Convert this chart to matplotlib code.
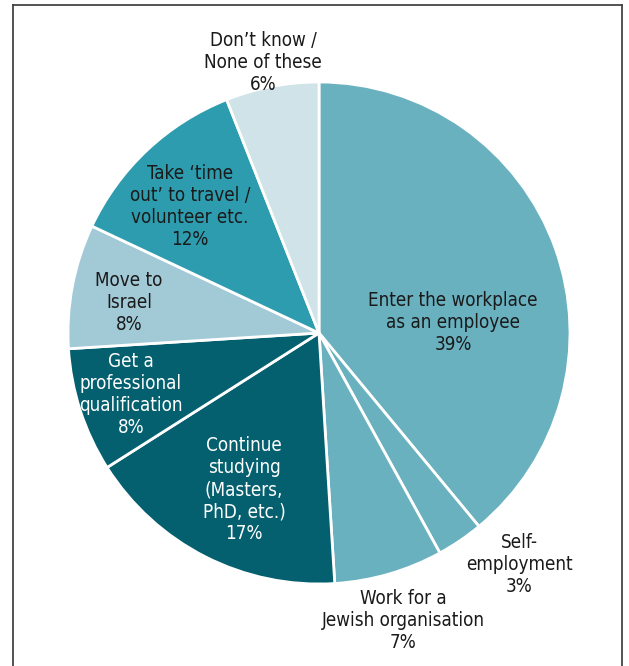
import matplotlib
matplotlib.use("Agg")
import matplotlib.pyplot as plt
from matplotlib.lines import Line2D

labels = ["Enter the workplace\nas an employee", "Self-\nemployment",
          "Work for a\nJewish organisation", "Continue\nstudying\n(Masters,\nPhD, etc.)",
          "Get a\nprofessional\nqualification", "Move to\nIsrael",
          "Take \u2018time\nout\u2019 to travel /\nvolunteer etc.", "Don\u2019t know /\nNone of these"]
values = [39, 3, 7, 17, 8, 8, 12, 6]

colors = ["#6ab1c0", "#6ab1c0", "#6ab1c0", "#045f6e", "#045f6e", "#a2cad6", "#2e9caf", "#cfe3e8"]
text_colors = ["#1a1a1a", "#1a1a1a", "#1a1a1a", "white", "white", "#1a1a1a", "#1a1a1a", "#1a1a1a"]
# label centres (in pie radius units)
label_pos = [(0.534, 0.04), (0.797, -0.924), (0.335, -1.147), (-0.299, -0.624),
             (-0.749, -0.247), (-0.757, 0.12), (-0.514, 0.502), (-0.223, 1.076)]

plt.rcParams['font.family'] = ['DejaVu Sans']
plt.rcParams['font.stretch'] = 'condensed'

fig = plt.figure(figsize=(6.29, 6.66), dpi=100)
ax = fig.add_axes([0, 0, 1, 1])
ax.pie(values, colors=colors, startangle=90, counterclock=False,
       wedgeprops=dict(edgecolor='white', linewidth=2))
ax.set_xlim(-319 / 251, 310 / 251)
ax.set_ylim(-333 / 251, 333 / 251)
ax.set_aspect('equal')
ax.axis('off')

for lab, v, (x, y), tc in zip(labels, values, label_pos, text_colors):
    ax.text(x, y, "%s\n%d%%" % (lab, v), ha='center', va='center', color=tc,
            fontsize=13.5, linespacing=1.2, fontstretch='condensed')

# frame
for xs, ys in [([13 / 629, 13 / 629], [0, 1 - 5 / 666]),
               ([622 / 629, 622 / 629], [0, 1 - 5 / 666]),
               ([13 / 629, 622 / 629], [1 - 5 / 666, 1 - 5 / 666])]:
    fig.add_artist(Line2D(xs, ys, color='#444444', lw=1.3))

fig.savefig("out.png", dpi=100)
